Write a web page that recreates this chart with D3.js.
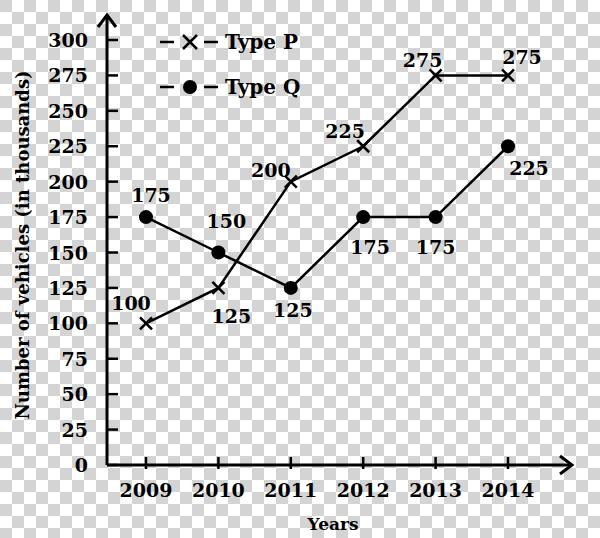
<!DOCTYPE html>
<html><head><meta charset="utf-8">
<script src="https://cdn.jsdelivr.net/npm/d3@7"></script>
<style>body{margin:0}svg{display:block}</style>
</head><body><svg id="chart" width="600" height="538"></svg>
<script>
var years = [2009, 2010, 2011, 2012, 2013, 2014];
var typeP = [100, 125, 200, 225, 275, 275];
var typeQ = [175, 150, 125, 175, 175, 225];
var yTicks = [0, 25, 50, 75, 100, 125, 150, 175, 200, 225, 250, 275, 300];
// label offsets (dx, dy) per point
var offP = [[-15, -20], [13, 28], [-20, -12], [-18, -15], [-13, -15], [14, -18]];
var offQ = [[5, -22], [8, -32], [2, 22], [7, 30], [0, 30], [21, 22]];

var svg = d3.select('#chart');
var font = "'DejaVu Serif', 'Liberation Serif', serif";

// checkerboard background
var defs = svg.append('defs');
var pat = defs.append('pattern').attr('id', 'chk').attr('width', 24).attr('height', 24)
    .attr('patternUnits', 'userSpaceOnUse');
pat.append('rect').attr('width', 24).attr('height', 24).attr('fill', '#fff');
pat.append('rect').attr('width', 12).attr('height', 12).attr('fill', '#d4d4d4');
pat.append('rect').attr('x', 12).attr('y', 12).attr('width', 12).attr('height', 12).attr('fill', '#d4d4d4');
svg.append('rect').attr('width', 600).attr('height', 538).attr('fill', 'url(#chk)');

var x = d3.scalePoint().domain(years).range([146, 508]);
var y = d3.scaleLinear().domain([0, 300]).range([465, 40]);
var x0 = 107;

// y axis
svg.append('line').attr('x1', x0).attr('x2', x0).attr('y1', y(0)).attr('y2', 17)
    .attr('stroke', '#000').attr('stroke-width', 3);
svg.append('path').attr('d', 'M' + (x0 - 9) + ',27 L' + x0 + ',15 L' + (x0 + 9) + ',27')
    .attr('fill', 'none').attr('stroke', '#000').attr('stroke-width', 3);
svg.selectAll('.yt').data(yTicks).enter().append('line')
    .attr('x1', x0).attr('x2', x0 + 11).attr('y1', d => y(d)).attr('y2', d => y(d))
    .attr('stroke', '#000').attr('stroke-width', 2.5);
svg.selectAll('.yl').data(yTicks).enter().append('text')
    .attr('x', 88).attr('y', d => y(d) + 7).attr('text-anchor', 'end')
    .attr('font-family', font).attr('font-size', 19).attr('font-weight', 600).text(d => d);

// x axis
svg.append('line').attr('x1', x0).attr('x2', 570).attr('y1', y(0)).attr('y2', y(0))
    .attr('stroke', '#000').attr('stroke-width', 3);
svg.append('path').attr('d', 'M560,' + (y(0) - 9) + ' L572,' + y(0) + ' L560,' + (y(0) + 9))
    .attr('fill', 'none').attr('stroke', '#000').attr('stroke-width', 3);
svg.selectAll('.xt').data(years).enter().append('line')
    .attr('x1', d => x(d)).attr('x2', d => x(d)).attr('y1', y(0) - 8).attr('y2', y(0) + 4)
    .attr('stroke', '#000').attr('stroke-width', 2.5);
svg.selectAll('.xl').data(years).enter().append('text')
    .attr('x', d => x(d)).attr('y', 497).attr('text-anchor', 'middle')
    .attr('font-family', font).attr('font-size', 19).attr('font-weight', 600).text(d => d);

svg.append('text').attr('x', 333).attr('y', 530).attr('text-anchor', 'middle')
    .attr('font-family', font).attr('font-size', 17).attr('font-weight', 'bold').text('Years');
svg.append('text').attr('transform', 'translate(29,245) rotate(-90)').attr('text-anchor', 'middle')
    .attr('font-family', font).attr('font-size', 18).attr('font-weight', 'bold')
    .text('Number of vehicles (in thousands)');

var line = d3.line().x((d, i) => x(years[i])).y(d => y(d));
function series(vals, marker, off) {
    svg.append('path').datum(vals).attr('d', line).attr('fill', 'none')
        .attr('stroke', '#000').attr('stroke-width', 2.5);
    vals.forEach(function (v, i) {
        var cx = x(years[i]), cy = y(v);
        if (marker === 'x') {
            svg.append('path').attr('d', 'M' + (cx - 6) + ',' + (cy - 6) + 'L' + (cx + 6) + ',' + (cy + 6) +
                'M' + (cx - 6) + ',' + (cy + 6) + 'L' + (cx + 6) + ',' + (cy - 6))
                .attr('stroke', '#000').attr('stroke-width', 2.5);
        } else {
            svg.append('circle').attr('cx', cx).attr('cy', cy).attr('r', 7).attr('fill', '#000');
        }
        svg.append('text').attr('x', cx + off[i][0]).attr('y', cy + off[i][1] + 7)
            .attr('text-anchor', 'middle').attr('font-family', font).attr('font-size', 19)
            .attr('font-weight', 600).text(v);
    });
}
series(typeP, 'x', offP);
series(typeQ, 'o', offQ);

// legend
function legend(yy, marker, label) {
    svg.append('line').attr('x1', 160).attr('x2', 174).attr('y1', yy).attr('y2', yy).attr('stroke', '#000').attr('stroke-width', 2.5);
    svg.append('line').attr('x1', 204).attr('x2', 218).attr('y1', yy).attr('y2', yy).attr('stroke', '#000').attr('stroke-width', 2.5);
    if (marker === 'x') {
        svg.append('path').attr('d', 'M183,' + (yy - 7) + 'L197,' + (yy + 7) + 'M183,' + (yy + 7) + 'L197,' + (yy - 7))
            .attr('stroke', '#000').attr('stroke-width', 2.5);
    } else {
        svg.append('circle').attr('cx', 190).attr('cy', yy).attr('r', 7).attr('fill', '#000');
    }
    svg.append('text').attr('x', 225).attr('y', yy + 7).attr('font-family', font).attr('font-size', 20)
        .attr('font-weight', 600).text(label);
}
legend(42, 'x', 'Type P');
legend(87, 'o', 'Type Q');
</script></body></html>
